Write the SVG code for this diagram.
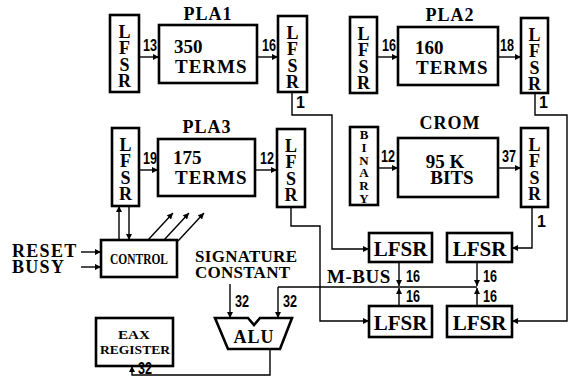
<svg xmlns="http://www.w3.org/2000/svg" width="574" height="379" viewBox="0 0 574 379">
<style>
.bx{fill:#fff;stroke:#000;stroke-width:2.6}
.ln{fill:none;stroke:#000;stroke-width:1.4}
.ar{fill:none;stroke:#000;stroke-width:1.4;marker-end:url(#ah)}
.t{font-family:"Liberation Serif","DejaVu Serif",serif;font-weight:bold;fill:#000}
.vt{font-family:"Liberation Serif","DejaVu Serif",serif;font-weight:bold;fill:#000;font-size:18px;writing-mode:vertical-rl;text-orientation:upright;letter-spacing:-3.7px}
.big{font-size:19px}
.ttl{font-size:18px;text-anchor:middle;letter-spacing:1px}
.n{font-family:"Liberation Sans","DejaVu Sans",sans-serif;font-weight:bold;font-size:16px;fill:#000}
.lf{font-size:21px;text-anchor:middle}
</style>
<defs>
<marker id="ah" viewBox="0 0 10 10" refX="10" refY="5" markerWidth="8" markerHeight="6" markerUnits="userSpaceOnUse" orient="auto"><path d="M0,0 L10,5 L0,10 z" fill="#000"/></marker>
</defs>

<g id="lfsr-a1"><rect class="bx" x="110" y="15" width="29" height="77"/><text class="vt" x="124.5" y="22">LFSR</text></g>
<g id="pla1"><rect class="bx" x="159" y="25" width="98" height="58"/><text class="t ttl" x="208" y="20">PLA1</text><text class="t big" x="174" y="53">350</text><text class="t big" x="175" y="73" letter-spacing="1">TERMS</text></g>
<g id="lfsr-a2"><rect class="bx" x="278" y="16" width="29" height="76"/><text class="vt" x="292.5" y="23">LFSR</text></g>

<g id="lfsr-a3"><rect class="bx" x="350" y="17" width="27" height="76"/><text class="vt" x="363.5" y="24">LFSR</text></g>
<g id="pla2"><rect class="bx" x="398" y="27" width="100" height="58"/><text class="t ttl" x="450" y="21">PLA2</text><text class="t big" x="415" y="54">160</text><text class="t big" x="416" y="74" letter-spacing="1">TERMS</text></g>
<g id="lfsr-a4"><rect class="bx" x="521" y="18" width="27" height="75"/><text class="vt" x="534.5" y="25">LFSR</text></g>

<g id="lfsr-b1"><rect class="bx" x="112" y="128" width="27" height="78"/><text class="vt" x="125.5" y="135">LFSR</text></g>
<g id="pla3"><rect class="bx" x="158" y="139" width="97" height="57"/><text class="t ttl" x="207" y="133">PLA3</text><text class="t big" x="173" y="164">175</text><text class="t big" x="175" y="184" letter-spacing="1">TERMS</text></g>
<g id="lfsr-b2"><rect class="bx" x="277" y="129" width="28" height="78"/><text class="vt" x="291" y="136">LFSR</text></g>

<g id="binary"><rect class="bx" x="350" y="127" width="28" height="78"/><text class="vt" style="font-size:13px;letter-spacing:-2.2px" x="364" y="127">BINARY</text></g>
<g id="crom"><rect class="bx" x="398" y="138" width="100" height="59"/><text class="t ttl" x="450" y="129">CROM</text><text class="t big" x="445" y="168" text-anchor="middle">95 K</text><text class="t big" x="452" y="184" text-anchor="middle">BITS</text></g>
<g id="lfsr-b4"><rect class="bx" x="521" y="128" width="27" height="79"/><text class="vt" x="534.5" y="135">LFSR</text></g>

<g id="control"><rect class="bx" x="101" y="240" width="76" height="37"/><text class="t" font-size="14" x="110" y="264" textLength="58" lengthAdjust="spacingAndGlyphs">CONTROL</text></g>
<g id="eax"><rect class="bx" x="96" y="318" width="77" height="48"/><text class="t" font-size="13" x="118" y="339" textLength="32" lengthAdjust="spacingAndGlyphs">EAX</text><text class="t" font-size="13" x="100" y="354" textLength="70" lengthAdjust="spacingAndGlyphs">REGISTER</text></g>
<g id="alu"><path class="bx" d="M215,318 L248,318 L254,325 L260,318 L292,318 L280,349 L228,349 Z"/><text class="t" font-size="18" text-anchor="middle" x="254" y="343" letter-spacing="1">ALU</text></g>

<g id="lfsr-m1"><rect class="bx" x="369" y="233" width="63" height="29"/><text class="t lf" x="400.5" y="256">LFSR</text></g>
<g id="lfsr-m2"><rect class="bx" x="447" y="233" width="65" height="29"/><text class="t lf" x="479.5" y="256">LFSR</text></g>
<g id="lfsr-m3"><rect class="bx" x="369" y="306" width="63" height="31"/><text class="t lf" x="400.5" y="330">LFSR</text></g>
<g id="lfsr-m4"><rect class="bx" x="447" y="306" width="65" height="31"/><text class="t lf" x="479.5" y="330">LFSR</text></g>

<g id="labels">
<text class="t" font-size="18" x="12" y="257" letter-spacing="1.3">RESET</text>
<text class="t" font-size="18" x="12" y="273" letter-spacing="1.3">BUSY</text>
<text class="t" font-size="17" x="195" y="262" textLength="102">SIGNATURE</text>
<text class="t" font-size="17" x="195" y="278" textLength="95">CONSTANT</text>
<text class="t" font-size="19" x="327" y="283" letter-spacing="0.5">M-BUS</text>
</g>

<g id="connectors">
<line class="ar" x1="139" y1="57" x2="159" y2="57"/>
<line class="ar" x1="257" y1="57" x2="278" y2="57"/>
<line class="ar" x1="377" y1="57" x2="398" y2="57"/>
<line class="ar" x1="498" y1="57" x2="521" y2="57"/>
<line class="ar" x1="139" y1="170" x2="158" y2="170"/>
<line class="ar" x1="255" y1="170" x2="277" y2="170"/>
<line class="ar" x1="378" y1="168" x2="398" y2="168"/>
<line class="ar" x1="498" y1="168" x2="521" y2="168"/>
<polyline class="ar" points="292,92 292,115 332,115 332,249 369,249"/>
<polyline class="ar" points="535,93 535,115 567,115 567,321 512,321"/>
<polyline class="ar" points="291,207 291,226 320,226 320,321 369,321"/>
<polyline class="ar" points="532,207 532,248 512,248"/>
<polyline class="ln" points="477,287 278,287"/>
<polyline class="ar" points="278,287 278,318"/>
<line class="ar" x1="230" y1="284" x2="230" y2="318"/>
<line class="ar" x1="399" y1="262" x2="399" y2="286"/>
<line class="ar" x1="399" y1="306" x2="399" y2="288"/>
<line class="ar" x1="477" y1="262" x2="477" y2="286"/>
<line class="ar" x1="477" y1="306" x2="477" y2="288"/>
<polyline class="ar" points="270,349 270,375 132,375 132,366"/>
<line class="ar" x1="119" y1="240" x2="119" y2="206"/>
<line class="ar" x1="129" y1="206" x2="129" y2="240"/>
<line class="ar" x1="148" y1="240" x2="173" y2="213"/>
<line class="ar" x1="164" y1="240" x2="189" y2="213"/>
<line class="ar" x1="178" y1="241" x2="204" y2="213"/>
<line class="ar" x1="81" y1="252" x2="101" y2="252"/>
<line class="ar" x1="81" y1="267" x2="101" y2="267"/>
<text class="n" x="143" y="51" textLength="14" lengthAdjust="spacingAndGlyphs">13</text>
<text class="n" x="262" y="51" textLength="14" lengthAdjust="spacingAndGlyphs">16</text>
<text class="n" x="382" y="51" textLength="14" lengthAdjust="spacingAndGlyphs">16</text>
<text class="n" x="500" y="51" textLength="14" lengthAdjust="spacingAndGlyphs">18</text>
<text class="n" x="143" y="164" textLength="14" lengthAdjust="spacingAndGlyphs">19</text>
<text class="n" x="260" y="164" textLength="14" lengthAdjust="spacingAndGlyphs">12</text>
<text class="n" x="381" y="162" textLength="14" lengthAdjust="spacingAndGlyphs">12</text>
<text class="n" x="502" y="162" textLength="14" lengthAdjust="spacingAndGlyphs">37</text>
<text class="n" x="296" y="108">1</text>
<text class="n" x="539" y="108">1</text>
<text class="n" x="537" y="227">1</text>
<text class="n" x="406" y="282" textLength="14" lengthAdjust="spacingAndGlyphs">16</text>
<text class="n" x="406" y="302" textLength="14" lengthAdjust="spacingAndGlyphs">16</text>
<text class="n" x="483" y="282" textLength="14" lengthAdjust="spacingAndGlyphs">16</text>
<text class="n" x="483" y="302" textLength="14" lengthAdjust="spacingAndGlyphs">16</text>
<text class="n" x="235" y="307" textLength="14" lengthAdjust="spacingAndGlyphs">32</text>
<text class="n" x="283" y="307" textLength="14" lengthAdjust="spacingAndGlyphs">32</text>
<text class="n" x="138" y="374" textLength="14" lengthAdjust="spacingAndGlyphs">32</text>
</g>
</svg>
